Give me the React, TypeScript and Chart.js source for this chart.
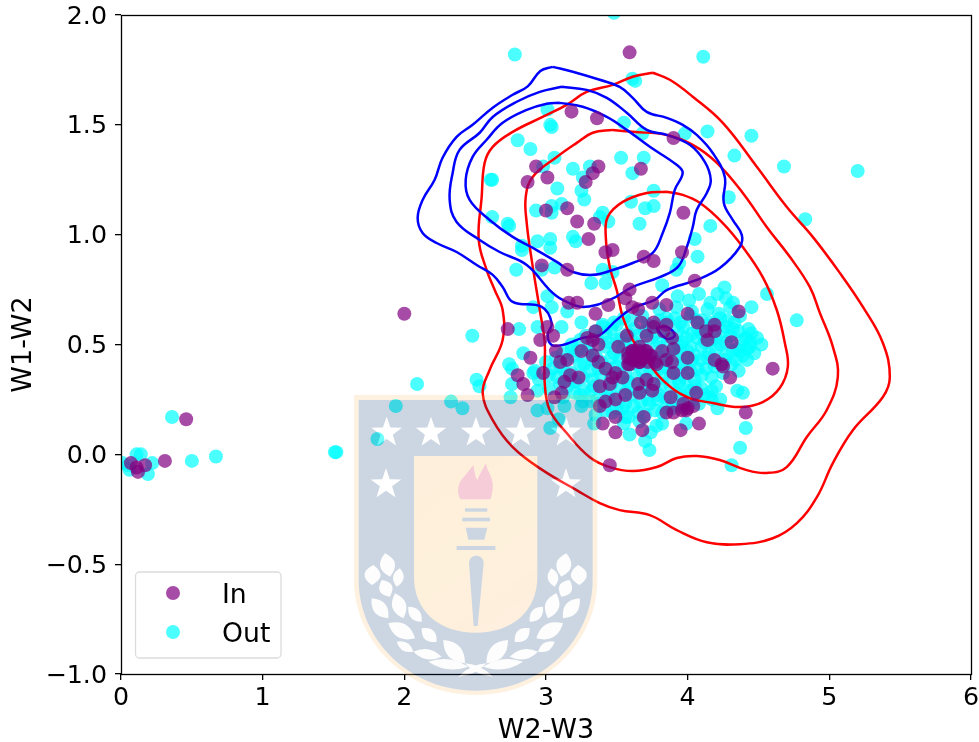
import React, { useEffect, useRef } from "react";
import { Chart, registerables } from "chart.js";

Chart.register(...registerables);

type P = [number, number];

const xTickValues = [0, 1, 2, 3, 4, 5, 6];
const yTickValues = [-1, -0.5, 0, 0.5, 1, 1.5, 2];
const xLabel = "W2-W3";
const yLabel = "W1-W2";
const legendLabels = ["In", "Out"];

const inPoints: P[] = [
  [3.59,1.83],[3.18,1.56],[3.36,1.53],[3.90,1.44],[2.93,1.31],[3.37,1.31],[3.33,1.28],[3.28,1.24],[3.67,1.30],[3.01,1.26],[2.87,1.24],[3.00,1.11],[3.15,1.12],[3.22,1.06],[3.34,1.05],[3.97,1.10],[3.30,0.98],[3.47,0.93],[3.42,0.92],[3.69,0.90],[3.76,0.88],[3.96,0.92],[2.97,0.86],[3.15,0.84],[3.59,0.75],[4.05,0.79],
  [3.56,0.71],[3.75,0.69],[3.85,0.68],[3.61,0.67],[3.65,0.66],[3.44,0.68],[3.35,0.64],[3.22,0.69],[3.16,0.69],[4.00,0.64],[4.07,0.60],[4.36,0.65],[3.67,0.60],[3.76,0.60],[3.85,0.59],[3.76,0.58],[3.83,0.56],[3.71,0.54],[3.57,0.54],[4.19,0.59],[4.19,0.56],[4.13,0.56],[4.14,0.52],[4.31,0.51],[2.73,0.57],[3.01,0.58],[3.05,0.54],[2.96,0.52],[3.35,0.56],[3.29,0.53],[3.33,0.52],[3.37,0.50],[3.07,0.47],[3.25,0.47],[3.51,0.49],[3.89,0.53],[3.90,0.48],[3.82,0.47],
  [3.61,0.47],[3.70,0.47],[3.66,0.49],[3.58,0.46],[3.64,0.44],[3.69,0.44],[3.73,0.45],[3.61,0.43],[3.58,0.41],[3.66,0.42],[3.72,0.42],[3.78,0.41],[3.85,0.43],[3.89,0.42],[4.00,0.44],[2.89,0.44],[3.10,0.42],[3.15,0.43],[3.33,0.45],[3.37,0.42],[3.42,0.39],[4.19,0.43],[4.24,0.41],[4.25,0.40],[4.60,0.39],[4.30,0.35],[3.90,0.37],[4.00,0.37],[2.80,0.36],[2.84,0.32],[2.87,0.27],[2.98,0.37],[3.17,0.36],[3.13,0.33],[3.23,0.35],[3.49,0.37],[3.54,0.35],[3.47,0.35],[3.45,0.32],[3.38,0.31],[3.65,0.32],[3.71,0.34],[3.76,0.32],[3.75,0.29],[3.66,0.28],[3.56,0.27],[3.49,0.25],[3.42,0.24],[3.38,0.22],[3.11,0.28],[3.06,0.26],[3.88,0.26],[4.06,0.28],[4.04,0.22],[3.97,0.23],[4.00,0.21],[3.99,0.20],[3.90,0.19],[3.85,0.19],[3.96,0.20],[3.49,0.17],[3.69,0.17],[3.68,0.11],[3.40,0.14],[3.49,0.10],[3.95,0.11],[4.08,0.14],[4.41,0.19],[3.45,-0.05],[2.00,0.64],[0.46,0.16],[0.31,-0.03],[0.07,-0.04],[0.11,-0.06],[0.12,-0.08],[0.17,-0.05],
  [3.61,0.47],[3.66,0.47],[3.71,0.47],[3.58,0.44],[3.63,0.44],[3.69,0.44],[3.74,0.45],[3.59,0.41],[3.66,0.42],[3.77,0.42],[3.63,0.45],[3.67,0.46],[3.65,0.43],[3.62,0.46],[3.68,0.45],[3.65,0.45],
];

const outPoints: P[] = [
  [2.78,1.82],[3.61,1.71],[3.63,1.70],[3.01,1.57],[3.03,1.50],[3.04,1.49],[2.80,1.43],[2.89,1.39],[3.55,1.51],[3.68,1.46],[3.98,1.46],[2.98,1.31],[3.06,1.35],[3.19,1.30],[3.31,1.31],[3.53,1.35],[3.69,1.35],[3.61,1.28],[2.62,1.25],[2.61,1.25],[3.08,1.21],[3.26,1.26],[3.25,1.20],[3.27,1.16],[3.76,1.20],[3.60,1.15],[3.70,1.12],[3.76,1.13],[2.93,1.11],[3.04,1.13],[3.04,1.10],[3.11,1.14],[3.40,1.10],[3.38,1.08],[3.44,1.06],[3.66,1.05],[2.62,1.08],[2.73,1.05],[2.74,1.04],[2.83,0.95],[2.83,0.93],[2.94,0.97],[3.03,0.98],[3.03,0.94],[3.19,0.99],[3.21,0.97],[2.79,0.84],[2.97,0.84],[3.06,0.85],[3.40,0.84],[3.47,0.83],[3.32,0.78],[3.42,0.78],[3.82,0.77],[3.92,0.84],[3.94,0.87],[4.05,0.98],[4.07,0.90],
  [4.14,1.47],[4.45,1.45],[4.33,1.36],[4.68,1.31],[5.20,1.29],[4.11,1.81],[4.83,1.07],[4.29,1.17],[4.16,1.04],[3.48,2.01],[4.26,0.76],[4.21,0.73],[4.56,0.73],[4.77,0.61],[4.45,0.67],[4.43,0.57],[4.49,0.53],[4.44,0.51],[4.39,0.45],[4.34,0.43],[4.32,0.57],[4.35,0.29],[4.39,0.28],[4.41,0.12],[4.37,0.03],[4.31,-0.05],[3.73,0.02],[3.70,0.06],[3.59,0.09],[3.74,0.10],[3.56,0.17],[3.82,0.14],[3.99,0.14],[4.21,0.21],[4.23,0.25],[4.17,0.29],[4.17,0.25],
  [3.01,0.72],[3.04,0.67],[2.91,0.67],[3.15,0.65],[3.40,0.59],[2.48,0.54],[2.81,0.57],[2.94,0.58],[3.11,0.58],[3.25,0.60],[2.84,0.46],[2.74,0.41],[2.76,0.39],[2.51,0.34],[2.53,0.31],[2.76,0.32],[2.91,0.37],[2.94,0.29],[2.75,0.26],[3.26,0.24],[3.13,0.22],[2.94,0.20],[3.01,0.21],[3.09,0.16],[3.03,0.12],[3.34,0.14],
  [2.09,0.32],[1.94,0.22],[2.33,0.24],[2.41,0.21],[1.81,0.07],[1.51,0.01],[1.52,0.01],[0.36,0.17],[0.50,-0.03],[0.67,-0.01],[0.14,0.00],[0.11,0.00],[0.22,-0.04],[0.05,-0.05],[0.06,-0.07],[0.19,-0.09],[0.01,-0.04],
  [3.93,0.72],[4.08,0.73],[4.01,0.70],[4.16,0.69],[4.27,0.71],[4.32,0.69],[3.80,0.66],[3.92,0.67],[4.03,0.65],[4.14,0.66],[4.22,0.64],[4.30,0.67],[4.37,0.63],
  [3.55,0.62],[3.68,0.63],[3.80,0.61],[3.91,0.62],[4.02,0.63],[4.10,0.61],[4.23,0.62],[4.33,0.60],[3.40,0.58],[3.50,0.59],[3.62,0.57],[3.74,0.58],[3.86,0.60],[3.97,0.58],[4.07,0.57],[4.18,0.59],[4.27,0.58],[4.36,0.56],
  [3.28,0.54],[3.42,0.55],[3.53,0.53],[3.65,0.54],[3.77,0.55],[3.88,0.54],[3.99,0.53],[4.10,0.55],[4.20,0.53],[4.30,0.54],[4.41,0.53],[4.45,0.55],[3.18,0.50],[3.30,0.49],[3.44,0.51],[3.56,0.50],[3.68,0.49],[3.80,0.51],[3.93,0.50],[4.02,0.49],[4.12,0.51],[4.23,0.50],[4.35,0.48],[4.44,0.49],[4.52,0.50],
  [3.12,0.46],[3.22,0.47],[3.35,0.45],[3.48,0.46],[3.60,0.47],[3.72,0.45],[3.84,0.46],[3.95,0.47],[4.05,0.45],[4.15,0.46],[4.27,0.45],[4.37,0.47],[4.47,0.46],[3.00,0.42],[3.14,0.43],[3.27,0.41],[3.39,0.42],[3.52,0.43],[3.64,0.41],[3.76,0.43],[3.87,0.42],[3.98,0.41],[4.09,0.43],[4.20,0.42],[4.31,0.41],[4.42,0.43],
  [2.92,0.38],[3.05,0.39],[3.18,0.37],[3.31,0.38],[3.44,0.39],[3.56,0.37],[3.68,0.38],[3.80,0.39],[3.92,0.37],[4.02,0.38],[4.13,0.39],[4.25,0.37],[4.36,0.38],[2.95,0.34],[3.08,0.35],[3.20,0.33],[3.33,0.34],[3.46,0.35],[3.58,0.33],[3.70,0.34],[3.82,0.35],[3.94,0.33],[4.05,0.34],[4.17,0.35],
  [3.02,0.30],[3.15,0.31],[3.27,0.29],[3.40,0.30],[3.52,0.31],[3.64,0.29],[3.76,0.30],[3.88,0.31],[4.00,0.29],[4.10,0.30],[4.20,0.31],[3.12,0.26],[3.24,0.27],[3.36,0.25],[3.48,0.26],[3.60,0.27],[3.72,0.25],[3.84,0.26],[3.95,0.27],[4.05,0.25],[4.15,0.26],
  [3.25,0.22],[3.37,0.23],[3.50,0.21],[3.62,0.22],[3.73,0.23],[3.85,0.21],[3.96,0.22],[4.08,0.23],[3.35,0.18],[3.47,0.19],[3.58,0.17],[3.70,0.18],[3.82,0.19],[3.55,0.14],[3.66,0.15],[3.78,0.13],
  [3.48,0.60],[3.60,0.61],[3.72,0.59],[3.85,0.62],[3.95,0.60],[4.06,0.61],[4.16,0.60],[4.28,0.61],[3.35,0.56],[3.46,0.57],[3.58,0.55],[3.70,0.56],[3.82,0.57],[3.93,0.56],[4.03,0.55],[4.14,0.57],[4.25,0.56],
  [3.24,0.52],[3.36,0.53],[3.50,0.52],[3.62,0.51],[3.74,0.53],[3.86,0.52],[3.96,0.51],[4.07,0.53],[4.17,0.52],[4.27,0.51],[4.38,0.52],[3.18,0.48],[3.29,0.47],[3.42,0.49],[3.54,0.48],[3.66,0.47],[3.78,0.49],[3.90,0.48],[4.00,0.47],[4.10,0.49],[4.20,0.48],[4.32,0.47],[4.42,0.48],
  [3.07,0.44],[3.20,0.45],[3.33,0.43],[3.46,0.44],[3.58,0.45],[3.70,0.43],[3.82,0.44],[3.93,0.45],[4.03,0.43],[4.14,0.44],[4.26,0.43],[3.10,0.40],[3.24,0.41],[3.37,0.39],[3.50,0.40],[3.60,0.41],[3.73,0.39],[3.84,0.40],[3.96,0.41],[4.07,0.39],[4.19,0.40],
  [3.02,0.36],[3.14,0.37],[3.26,0.35],[3.39,0.36],[3.52,0.37],[3.64,0.35],[3.76,0.36],[3.88,0.37],[3.98,0.35],[4.10,0.36],[3.10,0.32],[3.21,0.33],[3.34,0.31],[3.46,0.32],[3.58,0.33],[3.70,0.31],[3.82,0.32],[3.94,0.33],[4.05,0.31],
  [3.20,0.28],[3.32,0.29],[3.44,0.27],[3.56,0.28],[3.68,0.29],[3.80,0.27],[3.92,0.28],[4.02,0.29],[4.12,0.27],[3.32,0.24],[3.44,0.25],[3.56,0.23],[3.67,0.24],[3.79,0.25],[3.90,0.23],[4.00,0.24],[3.42,0.20],[3.54,0.21],[3.65,0.19],[3.77,0.20],[3.89,0.21],
];

const blueOuter: P[] = [[3.047,1.764],[3.189,1.742],[3.379,1.705],[3.52,1.673],[3.612,1.623],[3.711,1.559],[3.852,1.532],[3.965,1.5],[4.064,1.454],[4.177,1.372],[4.262,1.263],[4.255,1.145],[4.318,1.067],[4.382,0.999],[4.368,0.944],[4.227,0.848],[4.064,0.794],[3.852,0.748],[3.768,0.703],[3.612,0.666],[3.499,0.612],[3.379,0.543],[3.259,0.53],[3.118,0.498],[3.04,0.498],[3.012,0.543],[3.04,0.598],[2.97,0.671],[2.765,0.694],[2.694,0.762],[2.624,0.817],[2.511,0.862],[2.369,0.921],[2.228,0.962],[2.129,1.008],[2.094,1.076],[2.129,1.158],[2.214,1.25],[2.27,1.35],[2.369,1.445],[2.482,1.5],[2.624,1.578],[2.765,1.637],[2.871,1.675],[2.96,1.745]];
const blueMiddle: P[] = [[3.111,1.673],[3.287,1.659],[3.429,1.623],[3.57,1.555],[3.711,1.477],[3.852,1.454],[4.015,1.409],[4.121,1.331],[4.163,1.249],[4.135,1.19],[4.064,1.113],[4.036,1.035],[3.994,0.944],[3.931,0.853],[3.803,0.807],[3.612,0.762],[3.45,0.703],[3.259,0.671],[3.118,0.703],[3.026,0.748],[2.864,0.862],[2.673,0.921],[2.532,0.976],[2.369,1.058],[2.32,1.158],[2.341,1.281],[2.39,1.386],[2.532,1.464],[2.624,1.536],[2.793,1.605],[2.956,1.65]];
const blueInner: P[] = [[3.097,1.6],[3.259,1.582],[3.429,1.536],[3.57,1.477],[3.733,1.4],[3.922,1.318],[3.965,1.281],[3.909,1.204],[3.874,1.099],[3.824,1.008],[3.753,0.917],[3.612,0.871],[3.471,0.839],[3.33,0.817],[3.189,0.83],[3.076,0.876],[2.934,0.93],[2.765,0.99],[2.602,1.067],[2.461,1.158],[2.433,1.249],[2.482,1.354],[2.581,1.432],[2.694,1.509],[2.864,1.568],[3.005,1.596]];
const blueLoop: P[] = [[3.78,0.575],[3.852,0.58],[3.909,0.543],[3.86,0.525],[3.817,0.543]];
const redOuter: P[] = [[3.754,1.737],[3.612,1.719],[3.471,1.682],[3.287,1.65],[3.146,1.591],[2.976,1.536],[2.765,1.468],[2.624,1.4],[2.567,1.327],[2.546,1.172],[2.525,0.976],[2.581,0.839],[2.638,0.748],[2.694,0.657],[2.694,0.52],[2.602,0.384],[2.553,0.279],[2.624,0.156],[2.765,0.033],[2.976,-0.072],[3.216,-0.163],[3.379,-0.222],[3.52,-0.254],[3.732,-0.277],[3.923,-0.345],[4.135,-0.4],[4.368,-0.409],[4.601,-0.382],[4.771,-0.313],[4.912,-0.195],[5.025,-0.04],[5.166,0.11],[5.378,0.261],[5.427,0.352],[5.378,0.507],[5.237,0.671],[5.074,0.826],[4.883,0.99],[4.7,1.126],[4.488,1.309],[4.248,1.509],[4.036,1.628],[3.874,1.705]];
const redMiddle: P[] = [[3.471,1.477],[3.33,1.464],[3.217,1.418],[3.076,1.354],[2.906,1.263],[2.857,1.172],[2.864,1.053],[2.899,0.885],[2.956,0.657],[2.991,0.507],[2.991,0.325],[3.026,0.202],[3.146,0.097],[3.309,-0.013],[3.45,-0.058],[3.612,-0.076],[3.782,-0.058],[3.923,-0.017],[4.064,-0.008],[4.226,-0.026],[4.417,-0.072],[4.558,-0.085],[4.699,-0.058],[4.841,0.079],[4.982,0.202],[5.06,0.352],[5.025,0.489],[4.933,0.644],[4.862,0.762],[4.721,0.899],[4.558,1.035],[4.389,1.19],[4.206,1.327],[4.036,1.409],[3.852,1.454],[3.612,1.468]];
const redInner: P[] = [[3.852,1.195],[3.711,1.19],[3.542,1.149],[3.436,1.081],[3.422,0.99],[3.45,0.853],[3.499,0.748],[3.542,0.625],[3.612,0.521],[3.711,0.429],[3.824,0.338],[3.994,0.261],[4.177,0.234],[4.368,0.215],[4.53,0.238],[4.65,0.302],[4.707,0.398],[4.686,0.507],[4.629,0.657],[4.53,0.807],[4.389,0.944],[4.248,1.053],[4.085,1.145],[3.965,1.181]];

const FONT = '"DejaVu Sans"';
const IN_COLOR = "rgba(128,0,128,0.7)";
const OUT_COLOR = "rgba(0,255,255,0.7)";

const toXY = (list: P[]) => list.map(([x, y]) => ({ x, y }));
const closed = (list: P[]) => toXY([...list, list[0]]);

const contour = (list: P[], color: string) => ({
  type: "scatter" as const,
  data: closed(list),
  showLine: true,
  borderColor: color,
  borderWidth: 2.5,
  tension: 0.4,
  pointRadius: 0,
  pointHoverRadius: 0,
  fill: false,
  order: 1,
});

// Decorative crest, overlaid at low opacity like the reference image.
const leaves: number[][] = [
  [95,615,100,555,48],[135,520,150,590,45],[180,565,170,620,32],[125,600,150,650,40],[95,655,145,715,40],[165,640,190,715,42],[205,680,245,725,32],[145,730,225,775,44],[245,745,290,785,36],[170,785,220,815,26],[220,815,305,830,30],[310,780,375,850,44],[265,845,385,860,30],[355,890,440,850,18],
];

function buildCrest(): HTMLCanvasElement {
  const c = document.createElement("canvas");
  c.width = 979;
  c.height = 742;
  const g = c.getContext("2d") as CanvasRenderingContext2D;
  g.translate(340, 380);
  g.scale(1 / 3, 1 / 3);
  const shield = (x0: number, x1: number, top: number, side: number, bot: number, k: number) => {
    const m = (x0 + x1) / 2;
    g.beginPath();
    g.moveTo(x0, top);
    g.lineTo(x1, top);
    g.lineTo(x1, side);
    g.bezierCurveTo(x1, side + k, m + (x1 - m) * 0.58, bot, m, bot);
    g.bezierCurveTo(m - (x1 - m) * 0.58, bot, x0, side + k, x0, side);
    g.closePath();
    g.fill();
  };
  g.fillStyle = "rgb(248,185,100)";
  shield(42, 772, 45, 600, 945, 180);
  g.fillStyle = "rgb(0,52,111)";
  shield(56, 758, 60, 600, 932, 175);
  const grad = g.createLinearGradient(222, 228, 592, 758);
  grad.addColorStop(0, "rgb(247,170,80)");
  grad.addColorStop(0.5, "rgb(250,185,75)");
  grad.addColorStop(1, "rgb(247,170,95)");
  g.fillStyle = grad;
  shield(222, 592, 228, 590, 758, 105);
  // stars
  g.fillStyle = "#ffffff";
  const star = (cx: number, cy: number, r: number) => {
    g.beginPath();
    for (let i = 0; i < 10; i++) {
      const a = -Math.PI / 2 + (i * Math.PI) / 5;
      const rr = i % 2 ? r * 0.4 : r;
      g.lineTo(cx + rr * Math.cos(a), cy + rr * Math.sin(a));
    }
    g.closePath();
    g.fill();
  };
  [[140,158],[273,158],[408,158],[542,158],[678,158],[138,313],[678,313]].forEach(([x, y]) => star(x, y, 48));
  // laurel
  g.fillStyle = "rgb(245,245,245)";
  const leaf = (x1: number, y1: number, x2: number, y2: number, w: number) => {
    const mx = (x1 + x2) / 2, my = (y1 + y2) / 2;
    const dx = x2 - x1, dy = y2 - y1;
    const l = Math.hypot(dx, dy) || 1;
    const nx = -dy / l, ny = dx / l;
    g.beginPath();
    g.moveTo(x1, y1);
    g.quadraticCurveTo(mx + nx * w, my + ny * w, x2, y2);
    g.quadraticCurveTo(mx - nx * w, my - ny * w, x1, y1);
    g.fill();
  };
  leaves.forEach(([a, b, c2, d, w]) => {
    leaf(a, b, c2, d, w);
    leaf(814 - a, b, 814 - c2, d, w);
  });
  // torch
  g.fillStyle = "rgb(205,0,55)";
  g.beginPath();
  g.moveTo(362, 358);
  g.bezierCurveTo(345, 330, 360, 300, 372, 290);
  g.bezierCurveTo(385, 275, 395, 262, 400, 255);
  g.bezierCurveTo(405, 280, 405, 290, 412, 300);
  g.bezierCurveTo(420, 280, 430, 265, 438, 250);
  g.bezierCurveTo(442, 280, 462, 290, 458, 330);
  g.lineTo(452, 358);
  g.closePath();
  g.fill();
  g.fillStyle = "rgb(0,52,111)";
  g.fillRect(375, 385, 67, 10);
  g.fillRect(367, 413, 83, 11);
  g.beginPath();
  g.moveTo(377, 443);
  g.lineTo(442, 443);
  g.lineTo(433, 479);
  g.lineTo(385, 479);
  g.closePath();
  g.fill();
  g.fillRect(350, 498, 116, 12);
  g.beginPath();
  g.moveTo(387, 550);
  g.bezierCurveTo(387, 520, 431, 520, 431, 550);
  g.lineTo(413, 738);
  g.lineTo(401, 738);
  g.closePath();
  g.fill();
  return c;
}

const framePlugin = {
  id: "frameAndLegend",
  afterDatasetsDraw(chart: any) {
    const { ctx, chartArea: a } = chart;
    ctx.save();
    ctx.strokeStyle = "#000";
    ctx.lineWidth = 1.3;
    ctx.strokeRect(a.left + 0.5, a.top + 0.5, a.right - a.left, a.bottom - a.top);
    // legend box
    const bx = 135.5, by = 572, bw = 145.5, bh = 86, r = 4;
    ctx.beginPath();
    ctx.roundRect(bx, by, bw, bh, r);
    ctx.fillStyle = "rgba(255,255,255,0.8)";
    ctx.fill();
    ctx.strokeStyle = "#dcdcdc";
    ctx.lineWidth = 1.3;
    ctx.stroke();
    const colors = [IN_COLOR, OUT_COLOR];
    const ys = [593, 632];
    legendLabels.forEach((label, i) => {
      ctx.beginPath();
      ctx.arc(173, ys[i], 7, 0, Math.PI * 2);
      ctx.fillStyle = colors[i];
      ctx.fill();
      ctx.fillStyle = "#000";
      ctx.font = `26.67px ${FONT}`;
      ctx.textAlign = "left";
      ctx.textBaseline = "alphabetic";
      ctx.fillText(label, 222, ys[i] + 9.5);
    });
    ctx.restore();
  },
  afterDraw(chart: any) {
    const { ctx } = chart;
    ctx.save();
    ctx.globalAlpha = 0.2;
    ctx.drawImage(buildCrest(), 0, 0);
    ctx.restore();
  },
};

export default function App() {
  const ref = useRef<HTMLCanvasElement>(null);
  useEffect(() => {
    if (!ref.current) return;
    const chart = new Chart(ref.current, {
      type: "scatter",
      data: {
        datasets: [
          contour(blueOuter, "#0000ff"),
          contour(blueMiddle, "#0000ff"),
          contour(blueInner, "#0000ff"),
          contour(blueLoop, "#0000ff"),
          contour(redOuter, "#ff0000"),
          contour(redMiddle, "#ff0000"),
          contour(redInner, "#ff0000"),
          { label: "In", data: toXY(inPoints), backgroundColor: IN_COLOR, borderWidth: 0, pointRadius: 7, order: 0 },
          { label: "Out", data: toXY(outPoints), backgroundColor: OUT_COLOR, borderWidth: 0, pointRadius: 7, order: 2 },
        ] as any,
      },
      options: {
        responsive: false,
        animation: false,
        events: [],
        layout: { padding: { top: 15, right: 8, left: 0, bottom: 0 } },
        plugins: { legend: { display: false }, tooltip: { enabled: false } },
        scales: {
          x: {
            type: "linear",
            min: xTickValues[0],
            max: xTickValues[xTickValues.length - 1],
            afterFit: (s: any) => { s.height = 68; s.paddingLeft = 0; s.paddingRight = 0; },
            afterBuildTicks: (s: any) => { s.ticks = xTickValues.map((value) => ({ value })); },
            grid: { display: true, drawOnChartArea: false, drawTicks: true, tickLength: 6, color: "#000", lineWidth: 1.3 },
            border: { display: false },
            ticks: { color: "#000", font: { family: FONT, size: 25.3 }, padding: 3, maxRotation: 0, callback: (v: any) => String(v) },
            title: { display: true, text: xLabel, color: "#000", font: { family: FONT, size: 27 }, padding: { top: 0, bottom: -5 } },
          },
          y: {
            type: "linear",
            min: yTickValues[0],
            max: yTickValues[yTickValues.length - 1],
            afterFit: (s: any) => { s.width = 121; s.paddingTop = 0; s.paddingBottom = 0; },
            afterBuildTicks: (s: any) => { s.ticks = yTickValues.map((value) => ({ value })); },
            grid: { display: true, drawOnChartArea: false, drawTicks: true, tickLength: 6, color: "#000", lineWidth: 1.3 },
            border: { display: false },
            ticks: { color: "#000", font: { family: FONT, size: 25.3 }, padding: 8, labelOffset: 2, callback: (v: any) => Number(v).toFixed(1).replace("-", "\u2212") },
            title: { display: true, text: yLabel, color: "#000", font: { family: FONT, size: 27 }, padding: { top: 8, bottom: 0 } },
          },
        },
      },
      plugins: [framePlugin],
    } as any);
    return () => chart.destroy();
  }, []);
  return (
    <canvas
      ref={ref}
      width={979}
      height={742}
      style={{ position: "absolute", left: 0, top: 0, display: "block" }}
    />
  );
}
